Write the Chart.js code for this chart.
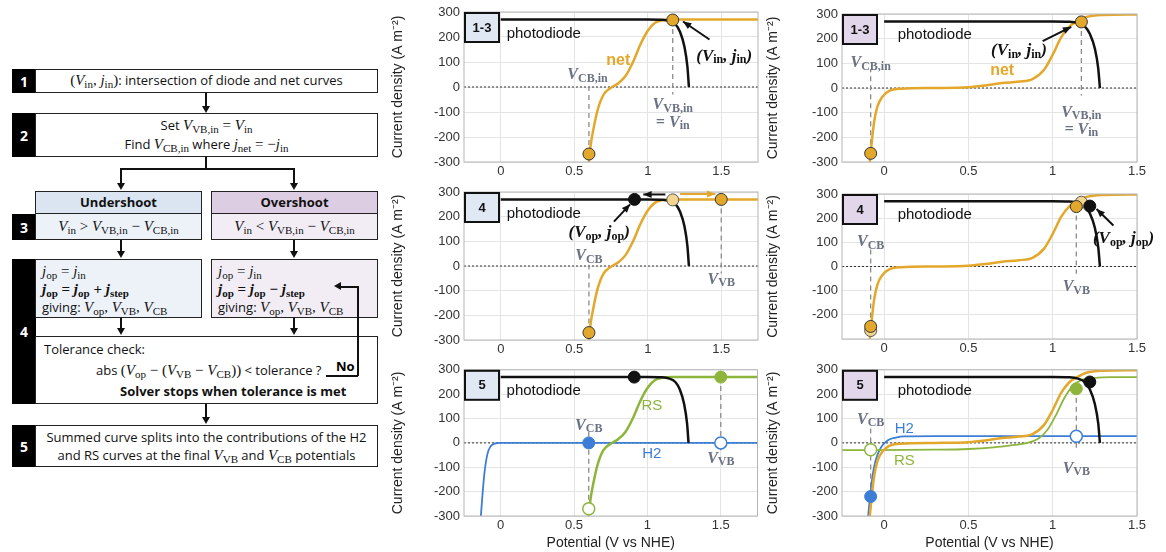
<!DOCTYPE html>
<html>
<head>
<meta charset="utf-8">
<script src="https://cdn.jsdelivr.net/npm/chart.js@4"></script>
<style>
  body { margin: 0; width: 1166px; height: 552px; background: #fff; position: relative; overflow: hidden; font-family: "Open Sans", "Liberation Sans", sans-serif; }
  canvas { position: absolute; }
  .fc { position: absolute; box-sizing: border-box; border: 1.5px solid #222; background: #fff; font-size: 13px; color: #111; text-align: center; }
  .num { position: absolute; background: #000; color: #fff; font-weight: bold; font-size: 14px; display: flex; align-items: center; justify-content: center; }
  .m { font-family: "Liberation Serif", "DejaVu Serif", serif; font-size: 15px; }
  .m sub { font-size: 11px; line-height: 0; vertical-align: -3px; }
  .vl { position: absolute; width: 1.5px; background: #111; }
  .hl { position: absolute; height: 1.5px; background: #111; }
  .ah { position: absolute; width: 0; height: 0; border-left: 4px solid transparent; border-right: 4px solid transparent; border-top: 7px solid #111; }
</style>
</head>
<body>

<!-- flowchart -->
<div class="num" style="left:12px;top:69px;width:24px;height:24px;">1</div>
<div class="fc" style="left:35px;top:69px;width:343px;height:24px;line-height:21px;"><span class="m">(<i>V</i><sub>in</sub>, <i>j</i><sub>in</sub>)</span>: intersection of diode and net curves</div>
<div class="vl" style="left:205px;top:93px;height:14px;"></div><div class="ah" style="left:202px;top:106px;"></div>

<div class="num" style="left:12px;top:113px;width:24px;height:44px;">2</div>
<div class="fc" style="left:35px;top:113px;width:343px;height:44px;padding-top:2px;line-height:19px;">Set <span class="m"><i>V</i><sub>VB,in</sub> = <i>V</i><sub>in</sub></span><br>Find <span class="m"><i>V</i><sub>CB,in</sub></span> where <span class="m"><i>j</i><sub>net</sub> = −<i>j</i><sub>in</sub></span></div>
<div class="vl" style="left:205px;top:157px;height:12px;"></div>
<div class="hl" style="left:120px;top:168px;width:174px;"></div>
<div class="vl" style="left:120px;top:168px;height:16px;"></div><div class="ah" style="left:117px;top:183px;"></div>
<div class="vl" style="left:293px;top:168px;height:16px;"></div><div class="ah" style="left:290px;top:183px;"></div>

<div class="fc" style="left:35px;top:191px;width:167px;height:24px;line-height:21px;background:#dbe4f1;font-weight:bold;">Undershoot</div>
<div class="fc" style="left:211px;top:191px;width:167px;height:24px;line-height:21px;background:#dccde3;font-weight:bold;">Overshoot</div>
<div class="num" style="left:12px;top:214px;width:24px;height:26px;">3</div>
<div class="fc" style="left:35px;top:213px;width:167px;height:27px;line-height:24px;background:#edf2f9;"><span class="m"><i>V</i><sub>in</sub> &gt; <i>V</i><sub>VB,in</sub> − <i>V</i><sub>CB,in</sub></span></div>
<div class="fc" style="left:211px;top:213px;width:167px;height:27px;line-height:24px;background:#f2edf5;"><span class="m"><i>V</i><sub>in</sub> &lt; <i>V</i><sub>VB,in</sub> − <i>V</i><sub>CB,in</sub></span></div>
<div class="vl" style="left:120px;top:240px;height:12px;"></div><div class="ah" style="left:117px;top:251px;"></div>
<div class="vl" style="left:293px;top:240px;height:12px;"></div><div class="ah" style="left:290px;top:251px;"></div>

<div class="num" style="left:12px;top:259px;width:24px;height:145px;">4</div>
<div class="fc" style="left:35px;top:259px;width:167px;height:59px;background:#edf2f9;text-align:left;padding:2px 0 0 6px;line-height:18px;">
  <span class="m"><i>j</i><sub>op</sub> = <i>j</i><sub>in</sub></span><br>
  <span class="m"><b><i>j</i><sub>op</sub> = <i>j</i><sub>op</sub> + <i>j</i><sub>step</sub></b></span><br>
  giving: <span class="m"><i>V</i><sub>op</sub>, <i>V</i><sub>VB</sub>, <i>V</i><sub>CB</sub></span></div>
<div class="fc" style="left:211px;top:259px;width:167px;height:59px;background:#f2edf5;text-align:left;padding:2px 0 0 6px;line-height:18px;">
  <span class="m"><i>j</i><sub>op</sub> = <i>j</i><sub>in</sub></span><br>
  <span class="m"><b><i>j</i><sub>op</sub> = <i>j</i><sub>op</sub> − <i>j</i><sub>step</sub></b></span><br>
  giving: <span class="m"><i>V</i><sub>op</sub>, <i>V</i><sub>VB</sub>, <i>V</i><sub>CB</sub></span></div>
<div class="vl" style="left:120px;top:318px;height:11px;"></div><div class="ah" style="left:117px;top:328px;"></div>
<div class="vl" style="left:293px;top:318px;height:11px;"></div><div class="ah" style="left:290px;top:328px;"></div>
<div class="fc" style="left:35px;top:336px;width:343px;height:68px;text-align:left;padding:2px 0 0 8px;line-height:21px;">
  Tolerance check:<br>
  <span style="padding-left:52px;">abs <span class="m">(<i>V</i><sub>op</sub> − (<i>V</i><sub>VB</sub> − <i>V</i><sub>CB</sub>))</span> &lt; tolerance ?</span><br>
  <b style="padding-left:76px;">Solver stops when tolerance is met</b></div>
<div style="position:absolute;left:336px;top:357px;font-weight:bold;font-size:13px;">No</div>
<div class="hl" style="left:326px;top:375px;width:32px;"></div>
<div class="vl" style="left:357px;top:286px;height:90px;"></div>
<div class="hl" style="left:340px;top:286px;width:18px;"></div>
<div style="position:absolute;left:334px;top:282px;width:0;height:0;border-top:4px solid transparent;border-bottom:4px solid transparent;border-right:7px solid #111;"></div>
<div class="vl" style="left:205px;top:404px;height:14px;"></div><div class="ah" style="left:202px;top:417px;"></div>

<div class="num" style="left:12px;top:425px;width:24px;height:42px;">5</div>
<div class="fc" style="left:35px;top:425px;width:343px;height:42px;line-height:18px;padding-top:2px;">Summed curve splits into the contributions of the H2<br>and RS curves at the final <span class="m"><i>V</i><sub>VB</sub></span> and <span class="m"><i>V</i><sub>CB</sub></span> potentials</div>

<canvas id="c1" style="left:390px;top:0px;"></canvas>
<canvas id="c2" style="left:765px;top:0px;"></canvas>
<canvas id="c3" style="left:390px;top:180px;"></canvas>
<canvas id="c4" style="left:765px;top:180px;"></canvas>
<canvas id="c5" style="left:390px;top:358px;"></canvas>
<canvas id="c6" style="left:765px;top:358px;"></canvas>

<script>
// ---- data ----
const yTicks = [-300, -200, -100, 0, 100, 200, 300];
const xTicksL = [0, 0.5, 1, 1.5];
const xTicksR = [0, 0.5, 1, 1.5];

// photodiode curve (same in every panel)
const photoX = [0, 0.5, 1.0, 1.1, 1.15, 1.19, 1.22, 1.25, 1.27, 1.28];
const photoY = [270, 270, 270, 269, 264, 250, 220, 160, 80, 0];

// net curve, left column
const netLX = [0.6, 0.61, 0.63, 0.66, 0.7, 0.75, 0.8, 0.85, 0.9, 0.95, 1.0, 1.05, 1.1, 1.17, 1.3, 1.75];
const netLY = [-300, -240, -170, -90, -30, -3, 15, 45, 100, 170, 225, 257, 267, 270, 270, 270];

// net curve, right column
const netRX = [-0.085, -0.075, -0.06, -0.04, -0.01, 0.03, 0.1, 0.3, 0.5, 0.6, 0.7, 0.8, 0.88, 0.95, 1.0, 1.05, 1.1, 1.15, 1.2, 1.3, 1.5];
const netRY = [-300, -230, -140, -75, -35, -12, -3, 0, 3, 10, 20, 26, 36, 75, 135, 205, 250, 272, 288, 296, 298];

// H2 and RS curves, panel 5
const h2LX = [-0.135, -0.125, -0.11, -0.09, -0.07, -0.04, 0, 1.75];
const h2LY = [-300, -220, -120, -45, -15, -3, 0, 0];
const rsLX = netLX, rsLY = netLY;
const h2RX = [-0.095, -0.085, -0.07, -0.05, -0.02, 0.02, 0.07, 0.12, 0.3, 1.5];
const h2RY = [-300, -230, -140, -70, -20, 10, 22, 27, 28, 28];
const rsRX = [-0.25, 0.3, 0.5, 0.65, 0.75, 0.85, 0.92, 0.97, 1.02, 1.07, 1.12, 1.17, 1.25, 1.35, 1.5];
const rsRY = [-30, -28, -25, -18, -10, 0, 20, 55, 115, 185, 235, 258, 267, 270, 270];

const ORANGE = '#e3a82b', LORANGE = '#f2d58e', GREEN = '#8db53c', BLUE = '#3c7ed6', GRAY = '#6b7184';

function xy(xs, ys) { return xs.map((x, i) => ({ x, y: ys[i] })); }
function curve(xs, ys, color, w) {
  return { data: xy(xs, ys), borderColor: color, borderWidth: w || 2.5, pointRadius: 0, showLine: true, cubicInterpolationMode: 'monotone', fill: false };
}
function marker(x, y, fill, border, hollow) {
  return { data: [{ x, y }], pointRadius: 6, pointBackgroundColor: hollow ? '#fff' : fill,
    pointBorderColor: border, pointBorderWidth: hollow ? 1.5 : 1, showLine: false };
}
function vdash(x, y0, y1) {
  return { data: [{ x, y: y0 }, { x, y: y1 }], borderColor: '#8a8a8a', borderWidth: 1.3, borderDash: [5, 4], pointRadius: 0, showLine: true };
}
function zeroLine(x0, x1) {
  return { data: [{ x: x0, y: 0 }, { x: x1, y: 0 }], borderColor: '#333', borderWidth: 1, borderDash: [2, 2], pointRadius: 0, showLine: true };
}

// text with _{sub} parts, bold italic serif
function drawRich(ctx, str, px, py, color, size) {
  const parts = [];
  const re = /_\{([^}]*)\}/g; let last = 0, m;
  while ((m = re.exec(str))) { parts.push([str.slice(last, m.index), 0]); parts.push([m[1], 1]); last = re.lastIndex; }
  parts.push([str.slice(last), 0]);
  const fMain = `bold italic ${size}px "Liberation Serif", serif`;
  const fSub = `bold ${Math.round(size * 0.72)}px "Liberation Serif", serif`;
  let w = 0;
  parts.forEach(p => { ctx.font = p[1] ? fSub : fMain; w += ctx.measureText(p[0]).width; });
  let cx = px - w / 2;
  ctx.fillStyle = color; ctx.textAlign = 'left'; ctx.textBaseline = 'middle';
  parts.forEach(p => {
    ctx.font = p[1] ? fSub : fMain;
    ctx.fillText(p[0], cx, p[1] ? py + size * 0.22 : py);
    cx += ctx.measureText(p[0]).width;
  });
}
function arrow(ctx, x1, y1, x2, y2, color) {
  ctx.strokeStyle = color; ctx.fillStyle = color; ctx.lineWidth = 2;
  ctx.beginPath(); ctx.moveTo(x1, y1); ctx.lineTo(x2, y2); ctx.stroke();
  const a = Math.atan2(y2 - y1, x2 - x1), L = 9;
  ctx.beginPath(); ctx.moveTo(x2, y2);
  ctx.lineTo(x2 - L * Math.cos(a - 0.4), y2 - L * Math.sin(a - 0.4));
  ctx.lineTo(x2 - L * Math.cos(a + 0.4), y2 - L * Math.sin(a + 0.4));
  ctx.closePath(); ctx.fill();
}

function makePanel(id, p) {
  const cv = document.getElementById(id);
  cv.width = p.w; cv.height = p.h; cv.style.width = p.w + 'px'; cv.style.height = p.h + 'px';
  const deco = {
    id: 'deco',
    afterDatasetsDraw(chart) {
      const ctx = chart.ctx, a = chart.chartArea, X = chart.scales.x, Y = chart.scales.y;
      ctx.save();
      ctx.strokeStyle = '#b5b5b5'; ctx.lineWidth = 1; ctx.strokeRect(a.left, a.top, a.right - a.left, a.bottom - a.top);
      ctx.fillStyle = p.boxColor; ctx.fillRect(a.left + 1, a.top + 1, 34, 29);
      ctx.strokeStyle = '#111'; ctx.lineWidth = 2; ctx.strokeRect(a.left + 1, a.top + 1, 34, 29);
      ctx.fillStyle = '#111'; ctx.font = 'bold 13px "Liberation Sans", sans-serif'; ctx.textAlign = 'center'; ctx.textBaseline = 'middle';
      ctx.fillText(p.label, a.left + 18, a.top + 16);
      (p.arrows || []).forEach(r => arrow(ctx, X.getPixelForValue(r[0]), Y.getPixelForValue(r[1]), X.getPixelForValue(r[2]), Y.getPixelForValue(r[3]), r[4]));
      (p.texts || []).forEach(t => {
        const px = X.getPixelForValue(t.x), py = Y.getPixelForValue(t.y);
        if (t.sans) {
          ctx.font = `${t.bold ? 'bold ' : ''}${t.size || 15}px "Liberation Sans", sans-serif`;
          ctx.fillStyle = t.color; ctx.textAlign = t.align || 'center'; ctx.textBaseline = 'middle';
          ctx.fillText(t.s, px, py);
        } else drawRich(ctx, t.s, px, py, t.color, t.size || 16);
      });
      ctx.restore();
    }
  };
  const tickFont = { family: '"Liberation Sans", sans-serif', size: 13 };
  new Chart(cv, {
    type: 'scatter',
    data: { datasets: p.datasets },
    plugins: [deco],
    options: {
      responsive: false, animation: false, devicePixelRatio: 1,
      layout: { padding: { top: p.padTop, right: p.padRight, left: 0, bottom: 0 } },
      plugins: { legend: { display: false }, tooltip: { enabled: false } },
      scales: {
        x: { type: 'linear', min: p.xmin, max: p.xmax,
          afterBuildTicks: s => { s.ticks = p.xTicks.map(v => ({ value: v })); },
          afterFit: s => { s.height = p.xh; },
          ticks: { font: tickFont, color: '#333', padding: 2, callback: v => String(v) },
          grid: { color: '#e4e4e4', drawTicks: false }, border: { display: false },
          title: { display: !!p.xTitle, text: 'Potential (V vs NHE)', font: { family: '"Liberation Sans", sans-serif', size: 14 }, color: '#222', padding: 0 } },
        y: { type: 'linear', min: -300, max: 300,
          afterBuildTicks: s => { s.ticks = yTicks.map(v => ({ value: v })); },
          afterFit: s => { s.width = p.yw; },
          ticks: { font: tickFont, color: '#333', padding: 4, callback: v => (p.hideMin && v === -300) ? '' : String(v) },
          grid: { color: '#e4e4e4', drawTicks: false }, border: { display: false },
          title: { display: true, text: 'Current density (A m⁻²)', font: { family: '"Liberation Sans", sans-serif', size: 14 }, color: '#222', padding: 0 } }
      }
    }
  });
}

const L = { w: 375, xmin: -0.25, xmax: 1.75, xTicks: xTicksL, yw: 74, padRight: 6, boxColor: '#e0e8f4' };
const R = { w: 401, xmin: -0.25, xmax: 1.5, xTicks: xTicksR, yw: 77, padRight: 29, boxColor: '#e2d7ea' };

// panel 1-3 left
makePanel('c1', Object.assign({}, L, { h: 180, padTop: 12, xh: 18, label: '1-3',
  datasets: [
    marker(0.6, -268, ORANGE, '#333'), marker(1.17, 268, ORANGE, '#333'),
    curve(photoX, photoY, '#111'), curve(netLX, netLY, ORANGE),
    vdash(0.6, -268, 10), vdash(1.17, 268, -30), zeroLine(-0.25, 1.75)],
  texts: [{ s: 'photodiode', x: 0.04, y: 212, sans: 1, align: 'left', color: '#111' },
    { s: 'net', x: 0.8, y: 104, sans: 1, bold: 1, size: 16, color: ORANGE },
    { s: 'V_{CB,in}', x: 0.59, y: 48, color: GRAY },
    { s: 'V_{VB,in}', x: 1.17, y: -72, color: GRAY }, { s: '= V_{in}', x: 1.17, y: -142, color: GRAY },
    { s: '(V_{in}, j_{in})', x: 1.52, y: 122, color: '#111', size: 17 }],
  arrows: [[1.42, 190, 1.24, 262, '#111']] }));

// panel 1-3 right
makePanel('c2', Object.assign({}, R, { h: 180, padTop: 14, xh: 18, label: '1-3',
  datasets: [
    marker(-0.08, -265, ORANGE, '#333'), marker(1.17, 268, ORANGE, '#333'),
    curve(photoX, photoY, '#111'), curve(netRX, netRY, ORANGE),
    vdash(-0.08, -265, 75), vdash(1.17, 268, -30), zeroLine(-0.25, 1.5)],
  texts: [{ s: 'photodiode', x: 0.08, y: 215, sans: 1, align: 'left', color: '#111' },
    { s: 'net', x: 0.7, y: 72, sans: 1, bold: 1, size: 16, color: ORANGE },
    { s: 'V_{CB,in}', x: -0.08, y: 100, color: GRAY },
    { s: 'V_{VB,in}', x: 1.17, y: -100, color: GRAY }, { s: '= V_{in}', x: 1.17, y: -168, color: GRAY },
    { s: '(V_{in}, j_{in})', x: 0.8, y: 150, color: '#111', size: 17 }],
  arrows: [[0.94, 190, 1.11, 248, '#111']] }));

// panel 4 left
makePanel('c3', Object.assign({}, L, { h: 180, padTop: 12, xh: 20, label: '4',
  datasets: [
    marker(0.91, 270, '#111', '#111'), marker(1.17, 268, LORANGE, '#555'),
    marker(1.5, 270, ORANGE, '#333'), marker(0.6, -270, ORANGE, '#333'),
    curve(photoX, photoY, '#111'), curve(netLX, netLY, ORANGE),
    vdash(0.6, -270, 5), vdash(1.5, 270, -30), zeroLine(-0.25, 1.75)],
  texts: [{ s: 'photodiode', x: 0.04, y: 212, sans: 1, align: 'left', color: '#111' },
    { s: 'V_{CB}', x: 0.6, y: 40, color: GRAY },
    { s: 'V_{VB}', x: 1.5, y: -55, color: GRAY },
    { s: '(V_{op}, j_{op})', x: 0.67, y: 135, color: '#111', size: 17 }],
  arrows: [[0.77, 180, 0.88, 250, '#111'], [1.12, 290, 0.97, 290, '#111'], [1.22, 292, 1.46, 292, ORANGE]] }));

// panel 4 right
makePanel('c4', Object.assign({}, R, { h: 180, padTop: 14, xh: 21, label: '4', hideMin: true,
  datasets: [
    marker(1.22, 250, '#111', '#111'), marker(1.14, 248, ORANGE, '#333'), marker(1.17, 266, LORANGE, '#555'),
    marker(-0.08, -248, ORANGE, '#333'), marker(-0.08, -265, LORANGE, '#555'),
    curve(photoX, photoY, '#111'), curve(netRX, netRY, ORANGE),
    vdash(-0.08, -248, 75), vdash(1.14, 248, -30), zeroLine(-0.25, 1.5)],
  texts: [{ s: 'photodiode', x: 0.08, y: 215, sans: 1, align: 'left', color: '#111' },
    { s: 'V_{CB}', x: -0.08, y: 100, color: GRAY },
    { s: 'V_{VB}', x: 1.14, y: -85, color: GRAY },
    { s: '(V_{op}, j_{op})', x: 1.42, y: 115, color: '#111', size: 17 }],
  arrows: [[1.36, 170, 1.26, 238, '#111']] }));

// panel 5 left
makePanel('c5', Object.assign({}, L, { h: 194, padTop: 11, xh: 36, xTitle: 1, label: '5',
  datasets: [
    marker(0.91, 270, '#111', '#111'), marker(1.5, 270, GREEN, GREEN), marker(0.6, -270, GREEN, GREEN, true),
    marker(0.6, 0, BLUE, BLUE), marker(1.5, 0, BLUE, BLUE, true),
    curve(photoX, photoY, '#111'), curve(rsLX, rsLY, GREEN), curve(h2LX, h2LY, BLUE, 1.8),
    vdash(0.6, -270, 45), vdash(1.5, 270, -30), zeroLine(-0.25, 1.75)],
  texts: [{ s: 'photodiode', x: 0.04, y: 212, sans: 1, align: 'left', color: '#111' },
    { s: 'RS', x: 1.03, y: 150, sans: 1, size: 15, color: GREEN },
    { s: 'H2', x: 1.03, y: -47, sans: 1, size: 15, color: BLUE },
    { s: 'V_{CB}', x: 0.6, y: 70, color: GRAY },
    { s: 'V_{VB}', x: 1.5, y: -65, color: GRAY }] }));

// panel 5 right
makePanel('c6', Object.assign({}, R, { h: 194, padTop: 11, xh: 36, xTitle: 1, label: '5',
  datasets: [
    marker(1.22, 250, '#111', '#111'), marker(1.14, 222, GREEN, GREEN), marker(1.14, 27, BLUE, BLUE, true),
    marker(-0.08, -220, BLUE, BLUE), marker(-0.08, -28, GREEN, GREEN, true),
    curve(photoX, photoY, '#111'), curve(netRX, netRY, ORANGE), curve(rsRX, rsRY, GREEN, 1.8), curve(h2RX, h2RY, BLUE, 1.8),
    vdash(-0.08, -220, 75), vdash(1.14, 222, -30), zeroLine(-0.25, 1.5)],
  texts: [{ s: 'photodiode', x: 0.08, y: 215, sans: 1, align: 'left', color: '#111' },
    { s: 'H2', x: 0.12, y: 58, sans: 1, size: 15, color: BLUE },
    { s: 'RS', x: 0.12, y: -72, sans: 1, size: 15, color: GREEN },
    { s: 'V_{CB}', x: -0.08, y: 95, color: GRAY },
    { s: 'V_{VB}', x: 1.14, y: -105, color: GRAY }] }));
</script>
</body>
</html>
